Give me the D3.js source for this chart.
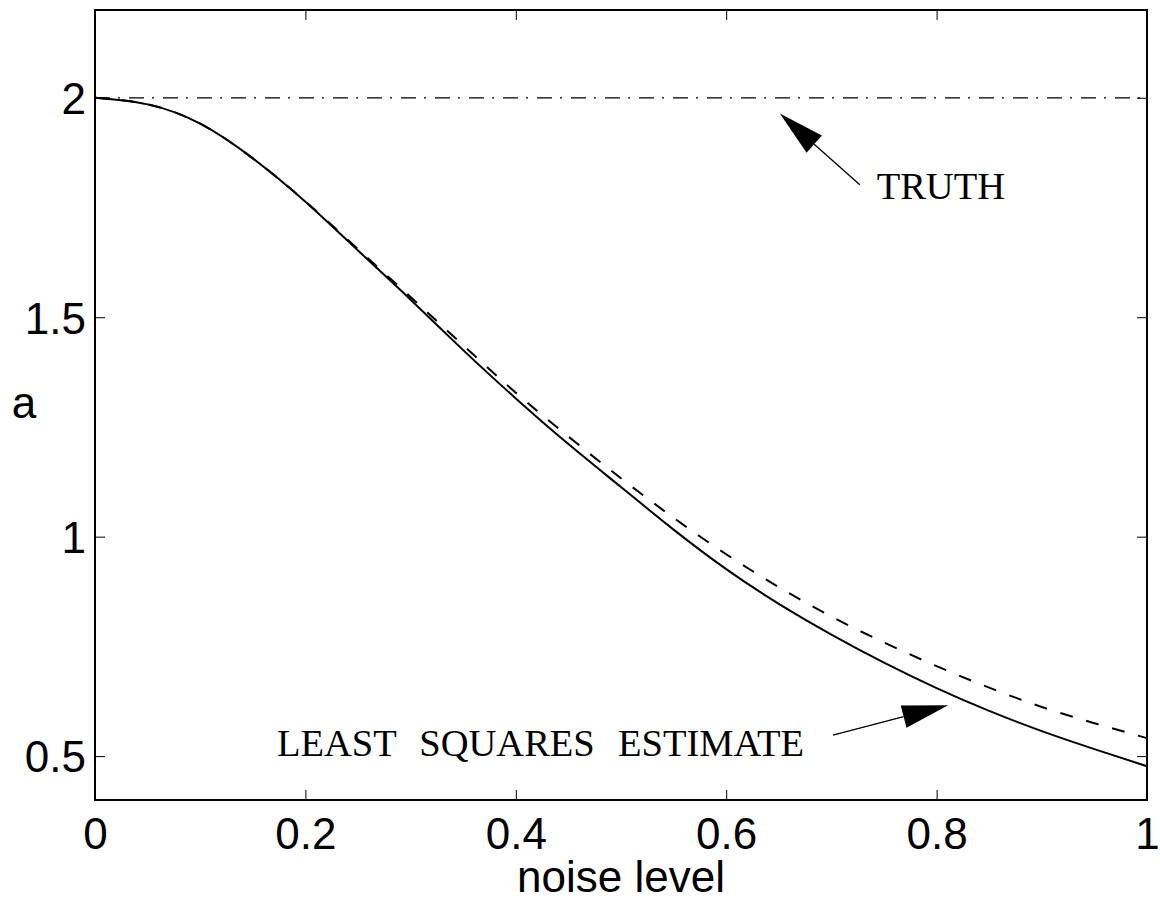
<!DOCTYPE html>
<html>
<head>
<meta charset="utf-8">
<script src="https://cdn.jsdelivr.net/npm/d3@7"></script>
<style>
  body { margin: 0; background: #fff; }
  svg { display: block; }
  .tick text { font-family: "Liberation Sans", Arial, sans-serif; font-size: 44px; fill: #000; }
  .note { font-family: "Liberation Serif", "Times New Roman", serif; font-size: 38.5px; fill: #000; white-space: pre; word-spacing: 2px; }
</style>
</head>
<body>
<div id="chart"></div>
<script>
// Chart size and margins
const width = 1160;
const height = 902;
const margin = {top: 10, right: 13, bottom: 102, left: 95};
const innerW = width - margin.left - margin.right;
const innerH = height - margin.top - margin.bottom;

// Data
const noise = [0, 0.05, 0.1, 0.15, 0.2, 0.25, 0.3, 0.35, 0.4, 0.45, 0.5,
               0.55, 0.6, 0.65, 0.7, 0.75, 0.8, 0.85, 0.9, 0.95, 1];
const leastSquares = [2.0, 1.985, 1.941, 1.862, 1.763, 1.652, 1.540, 1.425, 1.315, 1.211, 1.113,
                      1.016, 0.926, 0.847, 0.777, 0.713, 0.655, 0.603, 0.557, 0.516, 0.477];
const dashedEstimate = [2.0, 1.985, 1.941, 1.862, 1.764, 1.655, 1.546, 1.436, 1.328, 1.228, 1.133,
                        1.043, 0.960, 0.885, 0.818, 0.759, 0.705, 0.656, 0.612, 0.575, 0.541];
const truth = 2;
const xTicks = [0, 0.2, 0.4, 0.6, 0.8, 1];
const yTicks = [0.5, 1, 1.5, 2];

// Annotations (data coordinates)
const notes = [
  {text: "TRUTH", x: 0.743, y: 1.77, tail: [0.727, 1.802], tip: [0.651, 1.964]},
  {text: "LEAST  SQUARES  ESTIMATE", x: 0.173, y: 0.5, tail: [0.7015, 0.548], tip: [0.811, 0.616]}
];

const svg = d3.select("#chart").append("svg")
    .attr("width", width)
    .attr("height", height);

const g = svg.append("g")
    .attr("transform", `translate(${margin.left},${margin.top})`);

const x = d3.scaleLinear().domain([0, 1]).range([0, innerW]);
const y = d3.scaleLinear().domain([0.4, 2.2]).range([innerH, 0]);

// Axes with inward ticks on all four sides
const fmt = d => String(d);
g.append("g")
    .attr("class", "xaxis")
    .attr("transform", `translate(0,${innerH})`)
    .call(d3.axisBottom(x).tickValues(xTicks).tickFormat(fmt).tickSize(-10).tickPadding(18));
g.append("g")
    .call(d3.axisTop(x).tickValues(xTicks).tickFormat("").tickSize(-10));
g.append("g")
    .attr("class", "yaxis")
    .call(d3.axisLeft(y).tickValues(yTicks).tickFormat(fmt).tickSize(-10).tickPadding(9));
g.append("g")
    .attr("transform", `translate(${innerW},0)`)
    .call(d3.axisRight(y).tickValues(yTicks).tickFormat("").tickSize(-10));

g.selectAll(".domain").remove();
g.selectAll(".tick line").attr("stroke", "#000").attr("stroke-width", 1);
g.selectAll(".yaxis .tick text").attr("dy", "0.36em");
g.selectAll(".xaxis .tick text").attr("dy", "0.71em");

// Truth line
g.append("line")
    .attr("x1", x(0)).attr("x2", x(1))
    .attr("y1", y(truth)).attr("y2", y(truth))
    .attr("stroke", "#000")
    .attr("stroke-width", 1.2)
    .attr("stroke-dasharray", "15,8,2,9");

// Curves
const line = d3.line()
    .x((d, i) => x(noise[i]))
    .y(d => y(d))
    .curve(d3.curveNatural);

g.append("path")
    .attr("d", line(dashedEstimate))
    .attr("fill", "none")
    .attr("stroke", "#000")
    .attr("stroke-width", 2)
    .attr("stroke-dasharray", "13,14");

g.append("path")
    .attr("d", line(leastSquares))
    .attr("fill", "none")
    .attr("stroke", "#000")
    .attr("stroke-width", 2);

// Frame
g.append("rect")
    .attr("width", innerW)
    .attr("height", innerH)
    .attr("fill", "none")
    .attr("stroke", "#000")
    .attr("stroke-width", 2);

// Annotations with filled arrow heads
notes.forEach(n => {
  const x0 = x(n.tail[0]), y0 = y(n.tail[1]);
  const x1 = x(n.tip[0]), y1 = y(n.tip[1]);
  const ang = Math.atan2(y1 - y0, x1 - x0);
  const headLen = 46, headHalf = 11.5;
  const bx = x1 - headLen * Math.cos(ang), by = y1 - headLen * Math.sin(ang);
  g.append("line")
      .attr("x1", x0).attr("y1", y0).attr("x2", bx).attr("y2", by)
      .attr("stroke", "#000").attr("stroke-width", 1.3);
  const px = -Math.sin(ang), py = Math.cos(ang);
  g.append("path")
      .attr("d", `M${x1},${y1}L${bx + px * headHalf},${by + py * headHalf}L${bx - px * headHalf},${by - py * headHalf}Z`)
      .attr("fill", "#000");
  g.append("text")
      .attr("class", "note")
      .attr("x", x(n.x))
      .attr("y", y(n.y))
      .text(n.text);
});

// Axis labels
svg.append("text")
    .attr("x", margin.left + innerW / 2)
    .attr("y", 892)
    .attr("text-anchor", "middle")
    .style("font-family", "Liberation Sans, Arial, sans-serif")
    .style("font-size", "44px")
    .text("noise level");

svg.append("text")
    .attr("x", 24)
    .attr("y", 418)
    .attr("text-anchor", "middle")
    .style("font-family", "Liberation Sans, Arial, sans-serif")
    .style("font-size", "44px")
    .text("a");
</script>
</body>
</html>
